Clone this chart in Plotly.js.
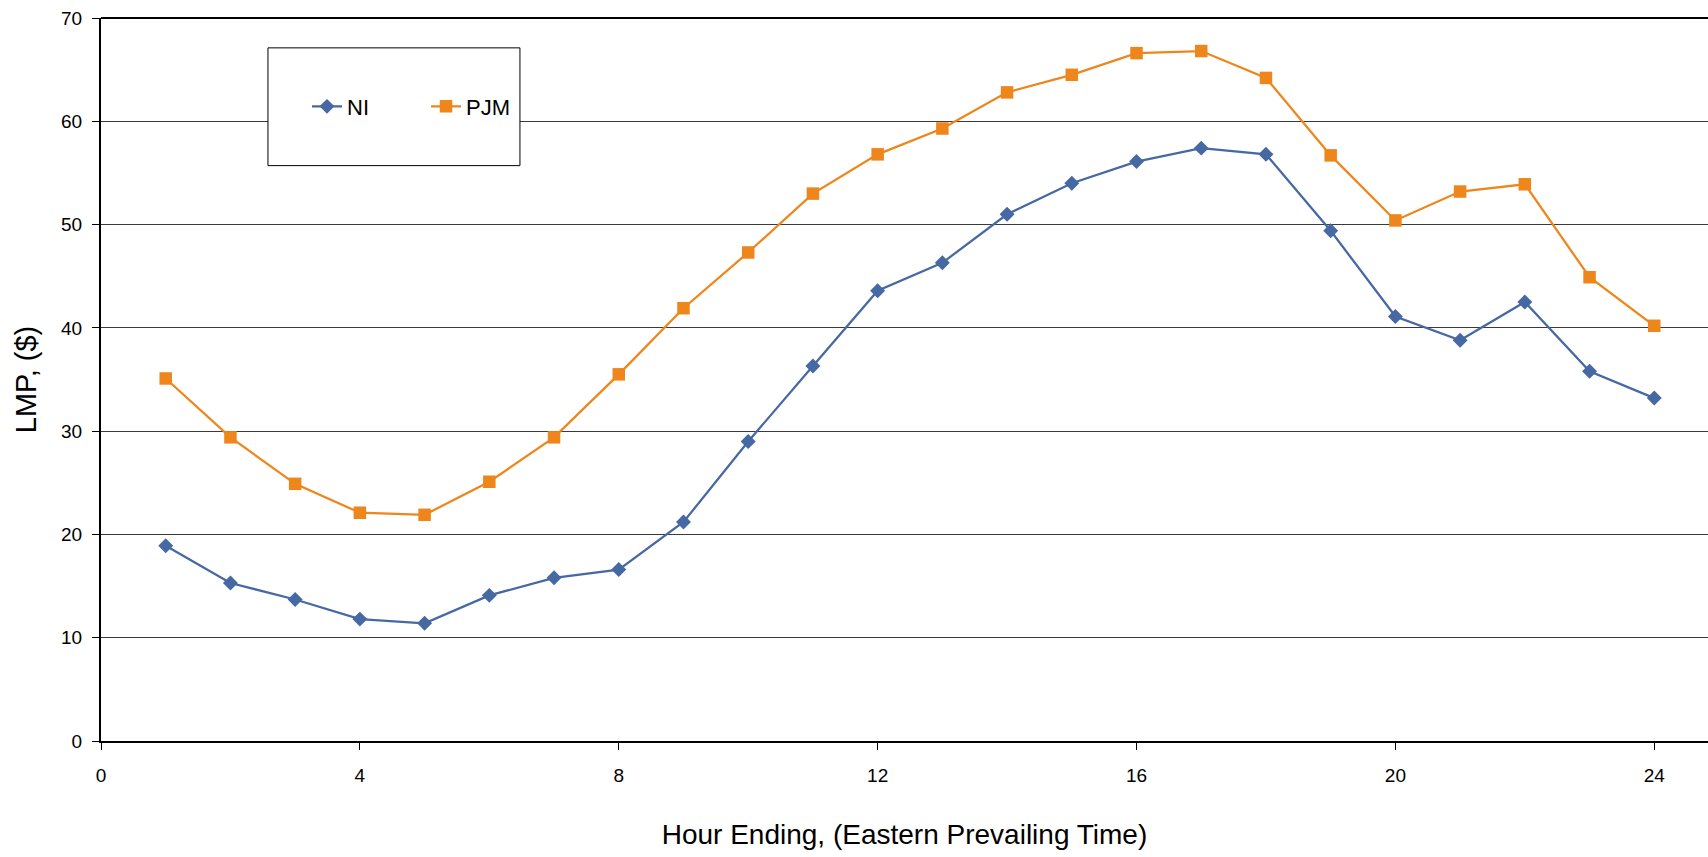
<!DOCTYPE html>
<html>
<head>
<meta charset="utf-8">
<script src="https://cdn.plot.ly/plotly-3.0.1.min.js"></script>
<style>html,body{margin:0;padding:0;background:#fff;}#chart{width:1708px;height:857px;}</style>
</head>
<body>
<div id="chart"></div>
<script>
const hours = [1,2,3,4,5,6,7,8,9,10,11,12,13,14,15,16,17,18,19,20,21,22,23,24];
const niValues = [18.9,15.3,13.7,11.8,11.4,14.1,15.8,16.6,21.2,29.0,36.3,43.6,46.3,51.0,54.0,56.1,57.4,56.8,49.4,41.1,38.8,42.5,35.8,33.2];
const pjmValues = [35.1,29.4,24.9,22.1,21.9,25.1,29.4,35.5,41.9,47.3,53.0,56.8,59.3,62.8,64.5,66.6,66.8,64.2,56.7,50.4,53.2,53.9,44.9,40.2];
const xTicks = [0,4,8,12,16,20,24];
const yTicks = [0,10,20,30,40,50,60,70];

const regular = 'Liberation Sans, Arial, sans-serif';

const traces = [
  {x: hours, y: niValues, name: 'NI', type: 'scatter', mode: 'lines+markers',
   line: {color: '#4668a3', width: 2.25}, marker: {symbol: 'diamond', size: 11.5, color: '#4668a3'}},
  {x: hours, y: pjmValues, name: 'PJM', type: 'scatter', mode: 'lines+markers',
   line: {color: '#ee861b', width: 2.25}, marker: {symbol: 'square', size: 12.5, color: '#ee861b'}}
];

const layout = {
  width: 1708, height: 857,
  margin: {l: 101, r: 0, t: 18, b: 116, pad: 0},
  paper_bgcolor: '#fff', plot_bgcolor: '#fff',
  showlegend: true,
  legend: {orientation: 'h', x: 0.1282, xanchor: 'left', y: 0.8775, yanchor: 'middle',
           font: {family: regular, size: 22, color: '#000'}, bgcolor: 'rgba(0,0,0,0)',
           borderwidth: 0, entrywidth: 74, entrywidthmode: 'pixels'},
  xaxis: {range: [0, 24.83], tickvals: xTicks, ticktext: xTicks.map(String),
          showgrid: false, zeroline: false, showline: true, linecolor: '#000', linewidth: 2,
          ticks: 'outside', ticklen: 7, tickcolor: '#000', tickwidth: 1, ticklabelstandoff: 9,
          tickfont: {family: regular, size: 19, color: '#000'},
          title: {text: 'Hour Ending, (Eastern Prevailing Time)', font: {family: regular, size: 28, color: '#000'}, standoff: 40}},
  yaxis: {range: [0, 70], tickvals: yTicks, ticktext: yTicks.map(String),
          showgrid: true, gridcolor: '#3a3a3a', gridwidth: 1.2, zeroline: false,
          showline: true, linecolor: '#000', linewidth: 2,
          ticks: 'outside', ticklen: 7, tickcolor: '#000', tickwidth: 1, ticklabelstandoff: 6,
          tickfont: {family: regular, size: 19, color: '#000'},
          title: {text: 'LMP, ($)', font: {family: regular, size: 29, color: '#000'}, standoff: 16}},
  shapes: [
    {type: 'line', xref: 'paper', yref: 'paper', x0: 0, x1: 1, y0: 1, y1: 1, line: {color: '#000', width: 2}},
    {type: 'rect', xref: 'paper', yref: 'paper', x0: 0.1039, x1: 0.2607, y0: 0.7958, y1: 0.9587,
     fillcolor: '#fff', line: {color: '#000', width: 1}, layer: 'above'}
  ]
};

Plotly.newPlot('chart', traces, layout, {displayModeBar: false, staticPlot: true});
</script>
</body>
</html>
